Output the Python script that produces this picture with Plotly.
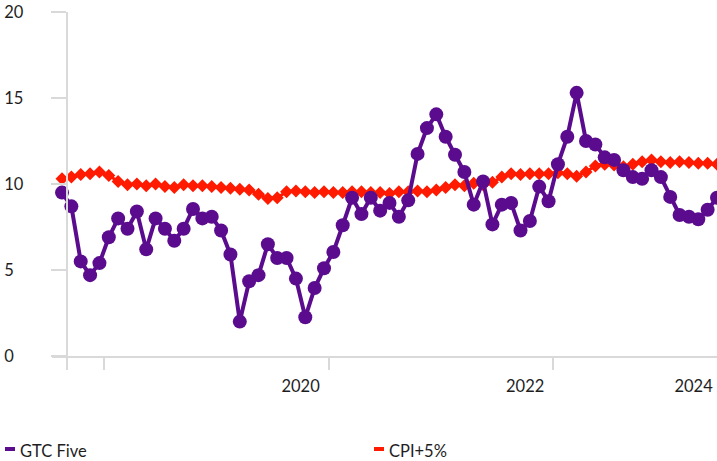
import plotly.graph_objects as go

# ---- data ----
gtc_five = [9.5, 8.7, 5.5, 4.7, 5.4, 6.9, 8.0, 7.4, 8.4, 6.2,
            8.0, 7.4, 6.7, 7.4, 8.55, 8.0, 8.1, 7.3, 5.9, 2.0,
            4.35, 4.7, 6.5, 5.7, 5.7, 4.5, 2.25, 3.95, 5.1, 6.05,
            7.6, 9.2, 8.25, 9.2, 8.45, 8.9, 8.1, 9.05, 11.75, 13.25,
            14.05, 12.75, 11.7, 10.7, 8.8, 10.15, 7.65, 8.8, 8.9, 7.3,
            7.85, 9.85, 9.0, 11.15, 12.75, 15.3, 12.5, 12.3, 11.55, 11.4,
            10.8, 10.4, 10.3, 10.8, 10.4, 9.25, 8.2, 8.1, 7.95, 8.5,
            9.2]
cpi_plus5 = [10.3, 10.4, 10.55, 10.6, 10.7, 10.5, 10.15, 9.95, 10.0, 9.9,
             10.0, 9.85, 9.8, 9.95, 9.9, 9.9, 9.85, 9.8, 9.75, 9.7,
             9.65, 9.4, 9.15, 9.2, 9.55, 9.6, 9.55, 9.5, 9.55, 9.5,
             9.5, 9.55, 9.55, 9.5, 9.5, 9.45, 9.55, 9.55, 9.6, 9.55,
             9.65, 9.8, 9.95, 9.9, 10.05, 9.95, 10.1, 10.4, 10.6, 10.55,
             10.6, 10.6, 10.6, 10.65, 10.6, 10.45, 10.7, 11.05, 11.15, 11.1,
             11.0, 11.15, 11.3, 11.4, 11.3, 11.25, 11.3, 11.25, 11.2, 11.2,
             11.15]
month_index = list(range(len(gtc_five)))

year_labels = ["2020", "2022", "2024"]
year_label_pos = [25.5, 49.5, 67.5]
boundary_ticks = [0.5, 4.5, 28.5, 52.5]
y_tick_vals = [0, 5, 10, 15, 20]
y_tick_text = ["0\u2007", "5\u2007", "10", "15", "20"]

series_names = ["GTC Five", "CPI+5%"]
PURPLE = "#5B0C8E"
RED = "#FF1A00"
AXIS_GREY = "#D9D9D9"
TEXT = "#1E1E1E"
FONT = "Lato"

fig = go.Figure()
fig.add_trace(go.Scatter(
    x=month_index, y=cpi_plus5, name=series_names[1], mode="lines+markers",
    line=dict(color=RED, width=3),
    marker=dict(symbol="diamond", size=10, color=RED),
    cliponaxis=False, showlegend=False))
fig.add_trace(go.Scatter(
    x=month_index, y=gtc_five, name=series_names[0], mode="lines+markers",
    line=dict(color=PURPLE, width=4),
    marker=dict(symbol="circle", size=14, color=PURPLE),
    cliponaxis=False, showlegend=False))

L, R, T, B = 52, 0, 12, 105
W, H = 717, 461
pw = W - L - R
ph = H - T - B
YAXIS_PX = 66.7
x_start = -1.07
x_end = 70


def px_x(p):
    return (p - L) / pw


def px_y(p):
    return (H - B - p) / ph


# legend drawn as text + swatches
legend_items = [(series_names[0], PURPLE, 5, 18), (series_names[1], RED, 374, 387)]
for name, col, sx, tx in legend_items:
    fig.add_shape(type="rect", xref="paper", yref="paper",
                  x0=px_x(sx), x1=px_x(sx + 10), y0=px_y(451), y1=px_y(447),
                  fillcolor=col, line=dict(width=0))
    fig.add_annotation(text=name, xref="paper", yref="paper",
                       x=px_x(tx), y=px_y(451), xanchor="left", yanchor="middle",
                       showarrow=False, font=dict(family=FONT, size=16.5, color=TEXT))

fig.update_layout(
    width=W, height=H,
    margin=dict(l=L, r=R, t=T, b=B),
    paper_bgcolor="white", plot_bgcolor="white",
    font=dict(family=FONT, size=16.5, color=TEXT),
    xaxis=dict(
        range=[x_start, x_end], showgrid=False, zeroline=False,
        showline=True, linecolor=AXIS_GREY, linewidth=2,
        tickmode="array", tickvals=year_label_pos, ticktext=year_labels,
        ticks="", ticklabelstandoff=14,
        minor=dict(tickmode="array", tickvals=boundary_ticks, ticks="outside",
                   ticklen=12, tickwidth=2, tickcolor=AXIS_GREY, showgrid=False),
    ),
    yaxis=dict(
        range=[0, 20], showgrid=False, zeroline=False,
        anchor="free", position=px_x(YAXIS_PX),
        showline=True, linecolor=AXIS_GREY, linewidth=2,
        tickmode="array", tickvals=y_tick_vals, ticktext=y_tick_text,
        ticks="outside", ticklen=15, tickwidth=2, tickcolor=AXIS_GREY,
        ticklabelstandoff=24,
    ),
)

fig.write_html(
    "out.html",
    config={"displayModeBar": False},
    post_script="document.body.style.margin='0';document.body.style.overflow='hidden';",
)
